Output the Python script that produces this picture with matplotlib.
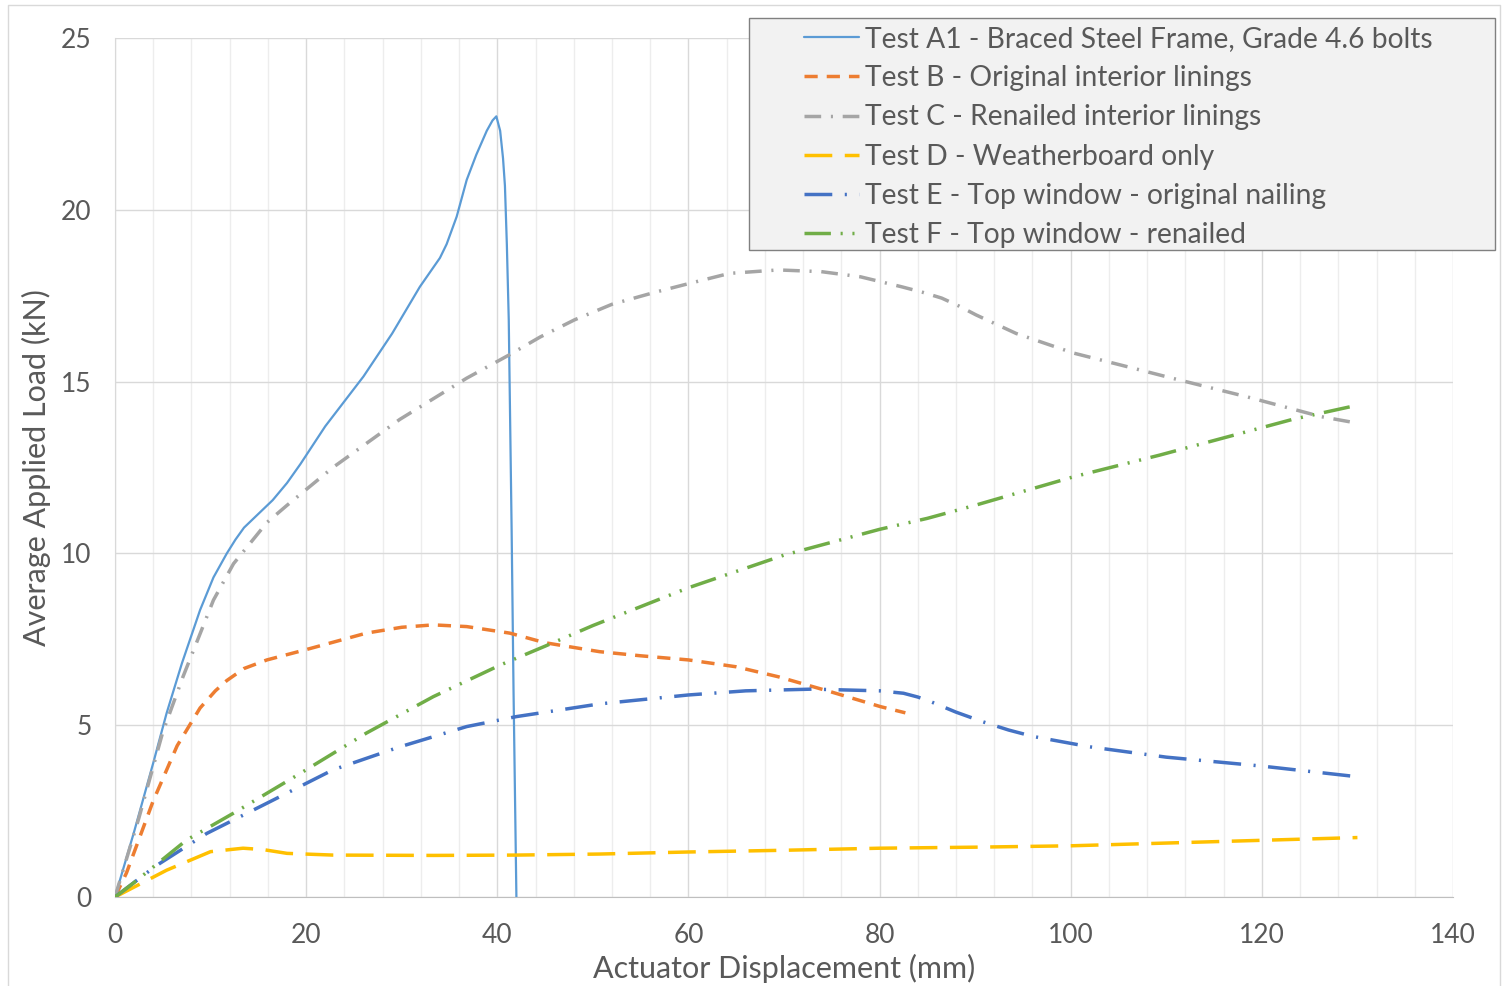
import matplotlib
matplotlib.use("Agg")
import matplotlib.pyplot as plt
from matplotlib.patches import Rectangle
from matplotlib.lines import Line2D
from matplotlib.ticker import MultipleLocator

# ---------------- data ----------------
a1_x = [0, 2, 4, 5.4, 7, 8.9, 10.3, 11.7, 12.6, 13.5, 15, 16.5, 18, 19.4, 22, 26, 29, 31.9, 34,
        34.7, 35.75, 36.8, 37.8, 38.9, 39.5, 39.9, 40.3, 40.6, 40.8, 41.0, 41.2, 41.5, 41.7, 42.0]
a1_y = [0, 1.9, 3.9, 5.35, 6.8, 8.35, 9.3, 10.0, 10.4, 10.75, 11.15, 11.55, 12.05, 12.6, 13.7,
        15.15, 16.4, 17.76, 18.6, 19.0, 19.8, 20.87, 21.6, 22.3, 22.6, 22.72, 22.3, 21.5, 20.7,
        19.0, 16.8, 10.7, 6.0, 0]

b_x = [0, 1.2, 4, 6.5, 8.9, 10.5, 11.7, 13.5, 15.9, 20, 26.3, 30, 33.3, 36.8, 41.3, 45, 50.7,
       55, 60, 65, 69.4, 74.8, 80.1, 82.7]
b_y = [0, 0.7, 2.8, 4.4, 5.5, 6.0, 6.3, 6.65, 6.9, 7.2, 7.68, 7.85, 7.92, 7.87, 7.68, 7.4, 7.14,
       7.02, 6.9, 6.7, 6.41, 5.98, 5.54, 5.36]

c_x = [0, 2.5, 5, 7.1, 10.3, 12.4, 15.9, 18, 22.8, 29.8, 36.8, 41.2, 44.5, 48.1, 52, 56.5, 60,
       64.3, 69.4, 73.9, 78, 82.3, 84.5, 86.5, 88.3, 90.1, 94.3, 100.3, 106.4, 110.6, 118.4,
       126.2, 129.2]
c_y = [0, 2.3, 4.8, 6.4, 8.64, 9.7, 10.9, 11.4, 12.5, 13.9, 15.1, 15.77, 16.3, 16.8, 17.25,
       17.6, 17.85, 18.15, 18.25, 18.2, 18.05, 17.76, 17.6, 17.43, 17.2, 16.94, 16.4, 15.83, 15.4,
       15.1, 14.56, 13.98, 13.83]

d_x = [0, 5.4, 10, 13.4, 15.5, 18, 22.8, 33.3, 42, 50.7, 60, 70, 80, 90, 100, 110, 120, 130]
d_y = [0, 0.78, 1.32, 1.42, 1.38, 1.27, 1.22, 1.21, 1.22, 1.25, 1.31, 1.36, 1.42, 1.45, 1.49,
       1.57, 1.65, 1.73]

e_x = [0, 3.3, 4.7, 9.6, 15.9, 22.8, 29.8, 36.8, 42, 50.7, 60, 66, 73, 80, 82.5, 84, 85.4, 88,
       90.8, 93.5, 96.1, 102, 110, 120, 130]
e_y = [0, 0.7, 0.98, 1.85, 2.73, 3.7, 4.37, 4.96, 5.25, 5.62, 5.88, 6.0, 6.05, 6.0, 5.93, 5.82,
       5.68, 5.38, 5.1, 4.86, 4.67, 4.37, 4.07, 3.81, 3.5]

f_x = [0, 1.9, 7.5, 12.4, 19.4, 26.3, 33.3, 40.3, 45, 50, 60, 70, 80, 85, 90, 100.3, 109.3,
       123.2, 130.1]
f_y = [0, 0.4, 1.66, 2.44, 3.6, 4.77, 5.83, 6.75, 7.3, 7.9, 9.0, 9.95, 10.7, 11.02, 11.4,
       12.23, 12.86, 13.9, 14.32]

labels = [
    "Test A1 - Braced Steel Frame, Grade 4.6 bolts",
    "Test B - Original interior linings",
    "Test C - Renailed interior linings",
    "Test D - Weatherboard only",
    "Test E - Top window - original nailing",
    "Test F - Top window - renailed",
]

x_label = "Actuator Displacement (mm)"
y_label = "Average Applied Load (kN)"

# ---------------- styling ----------------
plt.rcParams["font.family"] = ["Lato", "DejaVu Sans"]
plt.rcParams["lines.scale_dashes"] = False
text_col = "#595959"

fig = plt.figure(figsize=(15.04, 9.86), dpi=100)
ax = fig.add_axes([115 / 1504, 1 - 897 / 986, (1453 - 115) / 1504, (897 - 38) / 986])

series = [
    (a1_x, a1_y, "#5B9BD5", 1.6, None),
    (b_x, b_y, "#ED7D31", 2.5, (9.5, 6.5)),
    (c_x, c_y, "#A5A5A5", 2.5, (12, 7, 1.5, 7)),
    (d_x, d_y, "#FFC000", 2.5, (20, 9)),
    (e_x, e_y, "#4472C4", 2.5, (20, 9, 1.5, 9)),
    (f_x, f_y, "#70AD47", 2.5, (19, 7, 1.5, 7, 1.5, 7)),
]

handles = []
for (xs, ys, col, lw, dash), lab in zip(series, labels):
    if dash is None:
        ln, = ax.plot(xs, ys, color=col, lw=lw, solid_capstyle="round",
                      solid_joinstyle="round", zorder=3)
    else:
        ln, = ax.plot(xs, ys, color=col, lw=lw, dashes=dash, dash_capstyle="butt",
                      dash_joinstyle="round", zorder=3)
    handles.append(ln)

ax.set_xlim(0, 140)
ax.set_ylim(0, 25)
ax.xaxis.set_major_locator(MultipleLocator(20))
ax.xaxis.set_minor_locator(MultipleLocator(4))
ax.yaxis.set_major_locator(MultipleLocator(5))
ax.grid(which="major", axis="both", color="#D9D9D9", lw=1.0, zorder=0)
ax.grid(which="minor", axis="x", color="#EDEDED", lw=1.0, zorder=0)
ax.set_axisbelow(True)
for s in ["top", "right"]:
    ax.spines[s].set_visible(False)
ax.spines["left"].set_color("#D9D9D9")
ax.spines["bottom"].set_color("#BFBFBF")
ax.tick_params(which="both", length=0)
ax.tick_params(axis="x", pad=19, labelsize=19, labelcolor=text_col)
ax.tick_params(axis="y", pad=17, labelsize=19, labelcolor=text_col)
ax.set_xlabel(x_label, fontsize=22, color=text_col, labelpad=4)
ax.set_ylabel(y_label, fontsize=22, color=text_col, labelpad=7)

# chart border
fig.add_artist(Line2D([8 / 1504, 8 / 1504, 1500 / 1504, 1500 / 1504],
                      [0, 1 - 5 / 986, 1 - 5 / 986, 0], transform=fig.transFigure,
                      color="#D9D9D9", lw=1.0))

# legend box
fig.add_artist(Rectangle((749 / 1504, 1 - 250 / 986), (1495 - 749) / 1504, (250 - 18) / 986,
                         transform=fig.transFigure, facecolor="#F2F2F2", edgecolor="#808080",
                         lw=1.0, zorder=4))
leg = fig.legend(handles, labels, loc="upper left",
                 bbox_to_anchor=(790 / 1504, 1 - 12 / 986), bbox_transform=fig.transFigure,
                 frameon=False, fontsize=20.3, labelcolor=text_col, handlelength=1.95,
                 handletextpad=0.22, labelspacing=0.466, borderpad=0.0)
leg.set_zorder(5)

fig.savefig("out.png", dpi=100)
